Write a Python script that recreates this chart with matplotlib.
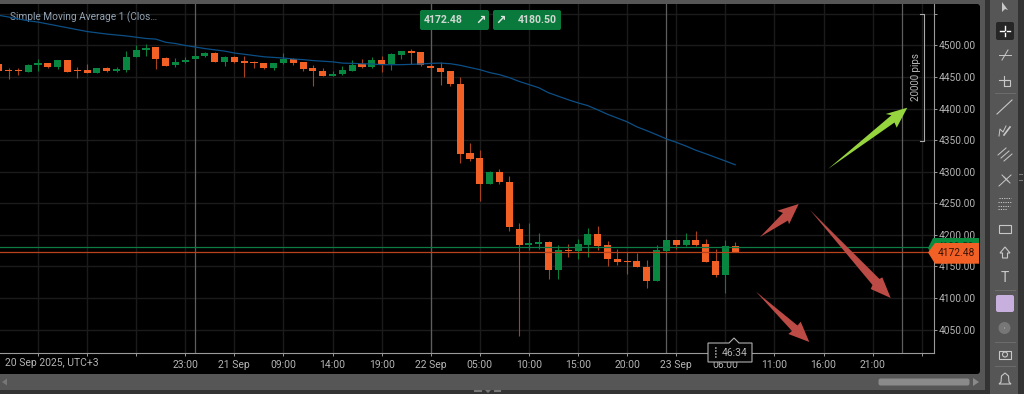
import matplotlib
matplotlib.use("Agg")
import matplotlib.pyplot as plt
from matplotlib.patches import Polygon, Rectangle, FancyBboxPatch, Circle

plt.rcParams['font.family'] = ['Roboto', 'DejaVu Sans']

# close > open = green
opens = [4470.6,4461.1,4461.1,4457.9,4468.5,4472.7,4466.4,4476.4,4460.6,4461.6,
         4456.9,4464.3,4459.0,4461.6,4481.7,4492.2,4497.0,4480.6,4468.5,4473.2,
         4478.0,4482.7,4488.0,4474.3,4481.7,4475.3,4473.8,4472.7,4464.8,4471.6,
         4478.5,4473.2,4464.3,4460.0,4451.6,4454.2,4460.0,4471.1,4465.3,4477.5,
         4470.6,4485.4,4491.2,4489.0,4468.0,4464.3,4459.0,4439.4,4329.0,4321.6,
         4281.0,4299.0,4283.0,4209.2,4183.8,4186.0,4188.0,4144.8,4176.0,4175.0,
         4184.4,4200.7,4183.3,4161.7,4158.5,4158.5,4149.5,4127.3,4175.0,4191.8,
         4183.3,4191.8,4185.4,4158.5,4135.8,4181.7]
closes = [4459.5,4460.0,4460.0,4469.0,4472.7,4466.4,4477.5,4457.9,4459.5,4456.9,
          4464.3,4459.0,4462.7,4481.7,4493.3,4496.5,4479.0,4468.0,4474.3,4477.5,
          4483.8,4487.5,4474.3,4481.7,4473.8,4471.6,4472.7,4464.8,4472.7,4478.5,
          4472.2,4463.2,4459.5,4451.6,4454.8,4461.6,4469.5,4465.8,4476.9,4470.6,
          4486.4,4491.2,4488.0,4468.5,4464.8,4458.4,4438.4,4328.0,4320.0,4281.0,
          4299.5,4283.0,4212.4,4184.4,4186.5,4188.0,4144.8,4175.4,4175.0,4185.4,
          4200.7,4182.3,4161.0,4157.0,4157.4,4148.5,4127.3,4175.4,4191.8,4183.3,
          4191.8,4184.4,4157.0,4135.8,4181.7,4172.48]
highs = [4472.2,4464.3,4464.3,4471.1,4479.0,4472.7,4477.5,4476.9,4465.8,4471.1,
         4464.3,4465.3,4465.3,4491.7,4501.2,4502.8,4497.5,4481.7,4480.1,4481.7,
         4498.6,4489.6,4489.0,4483.8,4483.8,4482.7,4475.9,4472.7,4472.7,4488.0,
         4480.6,4473.2,4468.5,4464.3,4460.0,4468.0,4476.4,4478.5,4481.2,4483.8,
         4488.0,4491.7,4494.4,4489.6,4469.0,4473.2,4460.0,4450.0,4344.9,4334.3,
         4301.0,4303.7,4293.0,4218.2,4218.2,4202.3,4190.0,4183.3,4185.4,4193.3,
         4210.8,4213.4,4190.7,4177.5,4173.3,4171.7,4159.6,4183.3,4191.8,4191.8,
         4202.3,4206.0,4193.3,4178.0,4191.8,4188.6]
lows = [4458.4,4446.8,4453.2,4457.4,4459.5,4464.3,4462.1,4457.4,4449.0,4456.9,
        4456.9,4457.4,4457.4,4458.4,4481.7,4482.7,4463.2,4468.0,4465.8,4472.2,
        4477.5,4481.2,4473.2,4468.0,4472.2,4449.5,4464.8,4462.7,4460.6,4471.1,
        4469.5,4459.0,4435.2,4451.0,4451.0,4453.2,4459.0,4464.8,4464.8,4458.4,
        4460.6,4478.0,4470.6,4468.0,4461.6,4437.9,4435.2,4314.3,4317.4,4253.5,
        4280.0,4281.0,4206.0,4040.2,4176.0,4178.0,4130.0,4130.5,4165.4,4161.7,
        4165.4,4176.0,4151.0,4152.0,4138.4,4148.5,4115.7,4127.3,4173.3,4177.0,
        4182.3,4182.3,4157.0,4133.7,4107.8,4172.5]
sma = [4547.7,4545,4542,4539,4537,4534,4531,4528,4525,4522,
       4520,4518,4516.5,4515,4513,4511,4510,4505,4503,4500,
       4497.5,4495,4493,4491,4488,4486,4484,4482,4481,4480,
       4478.5,4477.5,4476,4475,4474,4472,4471.6,4471,4470.6,4469.5,
       4469.5,4469.5,4470,4470.6,4471.6,4472,4471,4468.5,4465,4461.6,
       4457,4453.7,4449,4443,4438,4433,4425,4419.5,4414,4409,
       4404.6,4398,4391,4385,4379,4371,4365,4358.6,4352,4346.5,
       4340.6,4334,4328.5,4322.7,4317,4311]

bid_price = 4172.48
ask_price = 4180.50
y_ticks = [4050,4100,4150,4200,4250,4300,4350,4400,4450,4500,4550]
x_tick_pos = [4,9,14,19,24,29,34,39,44,49,54,59,64,69,74,79,84,89,94]
x_tick_labels = ["","","","23:00","21 Sep","09:00","14:00","19:00","22 Sep","05:00",
                 "10:00","15:00","20:00","23 Sep","06:00","11:00","16:00","21:00",""]
day_separators = [20,44,68,92]

UP, DOWN = "#07873F", "#F26026"
UPW, DOWNW = "#0A7F3C", "#A8431C"
GRID = "#1B1B1B"
TXT = "#B4B4B4"
CHROME = "#565656"

W, H = 1024, 394
fig = plt.figure(figsize=(W/100, H/100), dpi=100, facecolor="#333333")

# chrome background
bg = fig.add_axes([0,0,1,1], zorder=0)
bg.set_xlim(0,W); bg.set_ylim(H,0); bg.axis("off")
bg.add_patch(Rectangle((0,0),985,390,color=CHROME,lw=0))
bg.add_patch(Rectangle((990,0),28,H,color=CHROME,lw=0))
bg.add_patch(FancyBboxPatch((-5,4),985,370,boxstyle="round,pad=0,rounding_size=3",fc="black",ec="none"))

# price chart
ax = fig.add_axes([0,(H-353)/H,934/W,349/H], zorder=1)
ax.set_facecolor("black")
ax.set_xlim(0.132,95.25)
ax.set_ylim(4012.9,4565.6)
ax.set_xticks(x_tick_pos); ax.set_xticklabels(x_tick_labels)
ax.set_yticks(y_ticks)
ax.set_yticklabels([f"{v:.2f}" if v < 4550 else "" for v in y_ticks])
ax.yaxis.tick_right()
ax.grid(True,color=GRID,lw=1)
ax.set_axisbelow(True)
ax.tick_params(axis="x",colors=TXT,labelsize=7.5,length=2,width=0.7,pad=3,color="#999999")
ax.tick_params(axis="y",colors=TXT,labelsize=7.3,length=2,width=0.7,pad=1.3,color="#999999")
for s in ("top","left"):
    ax.spines[s].set_visible(False)
for s in ("right","bottom"):
    ax.spines[s].set_color("#9A9A9A"); ax.spines[s].set_linewidth(0.8)
for d in day_separators:
    ax.axvline(d,color="#5E5E5E",lw=0.9,zorder=1)

idx = list(range(len(opens)))
ax.vlines(idx,lows,highs,colors=[UPW if c>o else DOWNW for o,c in zip(opens,closes)],lw=0.8,zorder=2)
ax.bar(idx,[abs(c-o) for o,c in zip(opens,closes)],bottom=[min(o,c) for o,c in zip(opens,closes)],
       width=0.72,color=[UP if c>o else DOWN for o,c in zip(opens,closes)],lw=0,zorder=3)
ax.plot(idx,sma,color="#0B4F86",lw=0.9,zorder=4)
ax.axhline(ask_price,color="#0E7A45",lw=0.9,zorder=4)
ax.axhline(bid_price,color="#B8421B",lw=0.9,zorder=4)
ax.text(9.5/934,(353-17)/349,"Simple Moving Average 1 (Clos…",transform=ax.transAxes,color="#93A3B3",
        fontsize=7.25,va="center",ha="left")
ax.text(5/934,-10/349,"20 Sep 2025, UTC+3",transform=ax.transAxes,color=TXT,fontsize=7.5,va="center",ha="left")

# overlay
ov = fig.add_axes([0,0,1,1], zorder=2)
ov.set_xlim(0,W); ov.set_ylim(H,0); ov.axis("off"); ov.patch.set_alpha(0)

green_arrow = [(828,169),(891.5,115.2),(885.7,114),(907.3,107.7),(896.7,127.7),(894.5,122.5)]
red_arrows = [
    [(760,237),(783,213),(777.3,210.7),(798.7,204),(789,224.3),(788,220.5)],
    [(810,210),(879.5,279),(882.3,277.3),(890.7,298),(870.7,289),(872.5,285)],
    [(756,291.7),(797.5,325.5),(800.7,321.7),(809.3,342),(788.3,334),(792,331)],
]
ov.add_patch(Polygon(green_arrow,closed=True,fc="#97D53E",ec="none"))
for a in red_arrows:
    ov.add_patch(Polygon(a,closed=True,fc="#BC4A45",ec="none"))

# measure bracket
ov.plot([920,924,924,920],[14.3,14.3,141.3,141.3],color="#AAAAAA",lw=0.8)
ov.text(916,76.7,"20000 pips",rotation=90,color="#B8B8B8",fontsize=7,ha="center",va="center")

# top pills
for x0,x1 in ((420,489),(493,561)):
    ov.add_patch(FancyBboxPatch((x0+2,12),x1-x0-4,16,boxstyle="round,pad=2,rounding_size=2",fc="#0A7A3C",ec="none"))
ov.text(423.5,20,"4172.48",color="#CFD8D2",fontsize=7.6,va="center",weight="bold")
ov.text(557,20,"4180.50",color="#CFD8D2",fontsize=7.6,va="center",ha="right",weight="bold")
ov.text(480.5,20,"↗",color="#DDE5DF",fontsize=9,va="center",ha="center",family="DejaVu Sans",weight="bold")
ov.text(501,20,"↗",color="#DDE5DF",fontsize=9,va="center",ha="center",family="DejaVu Sans",weight="bold")

# price tags
ov.add_patch(Polygon([(928,248),(933,238),(979,238),(979,258),(933,258)],closed=True,fc="#0A8A3E",ec="none"))
ov.text(956,247,"4180.50",color="#113322",fontsize=7.2,ha="center",va="center")
ov.add_patch(Polygon([(928,252.5),(935,243),(979,243),(979,263.7),(935,263.7)],closed=True,fc=DOWN,ec="none",zorder=5))
ov.text(956,252.8,"4172.48",color="#3A1205",fontsize=7.4,ha="center",va="center",zorder=6)

# timer
ov.add_patch(Polygon([(708,343),(729,343),(734,338),(739,343),(752,343),(752,362),(708,362)],
                     closed=True,fc="#050505",ec="#B0B0B0",lw=0.8))
ov.text(722,352.5,"46:34",color=TXT,fontsize=7.5,va="center",ha="left")
for yy in (348,351,354,357):
    ov.plot([714.5,717.5],[yy,yy],color="#999999",lw=1.2,ls=(0,(1,1)))

# bottom scrollbar
ov.add_patch(FancyBboxPatch((880,380),88,4,boxstyle="round,pad=1.5,rounding_size=2",fc="#8A8A8A",ec="none"))
ov.add_patch(Polygon([(973,378),(979,382),(973,386)],closed=True,fc="#8A8A8A",ec="none"))
ov.add_patch(Polygon([(7,378.5),(2,382),(7,385.5)],closed=True,fc="#777777",ec="none"))
ov.plot([475,481],[391,391],color="#777777",lw=1.5)
ov.plot([495,500],[391,391],color="#777777",lw=1.5)
ov.add_patch(Polygon([(485,390),(491,390),(488,393)],closed=True,fc="#777777",ec="none"))

# toolbar
IC = "#C8C8C8"
cx = 1005
ov.add_patch(FancyBboxPatch((998,24),14,14,boxstyle="round,pad=2,rounding_size=2",fc="#262626",ec="none"))
ov.add_patch(Polygon([(1002,2),(1002,12),(1005,9),(1008,10)],closed=True,fc=IC,ec="none"))
ov.plot([cx-5,cx-1.5],[31,31],color="white",lw=1); ov.plot([cx+1.5,cx+5],[31,31],color="white",lw=1)
ov.plot([cx,cx],[26,29.5],color="white",lw=1); ov.plot([cx,cx],[32.5,36],color="white",lw=1)
ov.plot([cx-6,cx+6],[55,55],color=IC,lw=0.7); ov.plot([cx+3,cx-3],[50,60],color=IC,lw=0.7)
ov.add_patch(Rectangle((cx-1,80),6,6,fc="none",ec=IC,lw=0.8)); ov.plot([cx-6,cx+3],[80,80],color=IC,lw=0.8); ov.plot([cx-1,cx-1],[76,86],color=IC,lw=0.8)
ov.plot([995,1015],[93,93],color="#6C6C6C",lw=0.7)
ov.plot([cx-8,cx+7],[114,100],color=IC,lw=0.8)
ov.plot([cx-6,cx-5,cx-2,cx+1],[136,129,132,126],color=IC,lw=0.7); ov.plot([cx-1,cx+5],[135,127],color=IC,lw=1.2)
for d in (0,3,6):
    ov.plot([cx-7+d,cx+1+d],[155+d,148+d],color=IC,lw=0.7)
ov.plot([cx-6,cx+6],[186,175],color=IC,lw=0.7); ov.plot([cx-1,cx+5],[177,183],color=IC,lw=0.7); ov.plot([cx-3,cx+3],[175,181],color=IC,lw=0.7)
for yy,a,b in ((198,-6,6),(202,-7,6),(206,-7,5),(209,-7,2)):
    ov.plot([cx+a,cx+b],[yy,yy],color=IC,lw=0.7,ls=(0,(1.2,1.2)))
ov.add_patch(Rectangle((cx-6,225),12,8,fc="none",ec=IC,lw=0.8))
ov.add_patch(Polygon([(cx,247),(cx+5,253),(cx+2.5,253),(cx+2.5,258),(cx-2.5,258),(cx-2.5,253),(cx-5,253)],closed=True,fc="none",ec=IC,lw=0.8))
ov.text(cx,278,"T",color=IC,fontsize=10,ha="center",va="center")
ov.plot([995,1015],[290,290],color="#6C6C6C",lw=0.7)
ov.add_patch(FancyBboxPatch((997,296),16,15,boxstyle="round,pad=1,rounding_size=2",fc="#C7B0DE",ec="none"))
ov.add_patch(Circle((cx-0.5,328),6,fc="#777777",ec="none")); ov.add_patch(Circle((cx-0.5,328),0.5,fc=IC,ec="none"))
ov.plot([995,1015],[342,342],color="#6C6C6C",lw=0.7)
ov.add_patch(Rectangle((cx-6,350.5),12,8,fc="none",ec=IC,lw=0.8)); ov.add_patch(Circle((cx,354.5),2.5,fc="none",ec=IC,lw=0.8))
ov.plot([995,1015],[366,366],color="#6C6C6C",lw=0.7)
ov.add_patch(Polygon([(cx,373),(cx+3.5,376),(cx+4,382),(cx+6,384),(cx-6,384),(cx-4,382),(cx-3.5,376)],closed=True,fc="none",ec=IC,lw=0.8))
ov.plot([1019,1022],[174,174],color="#777777",lw=0.8)
ov.plot([1019,1022],[180,180],color="#777777",lw=0.8)

fig.savefig("out.png",dpi=100,facecolor=fig.get_facecolor())
